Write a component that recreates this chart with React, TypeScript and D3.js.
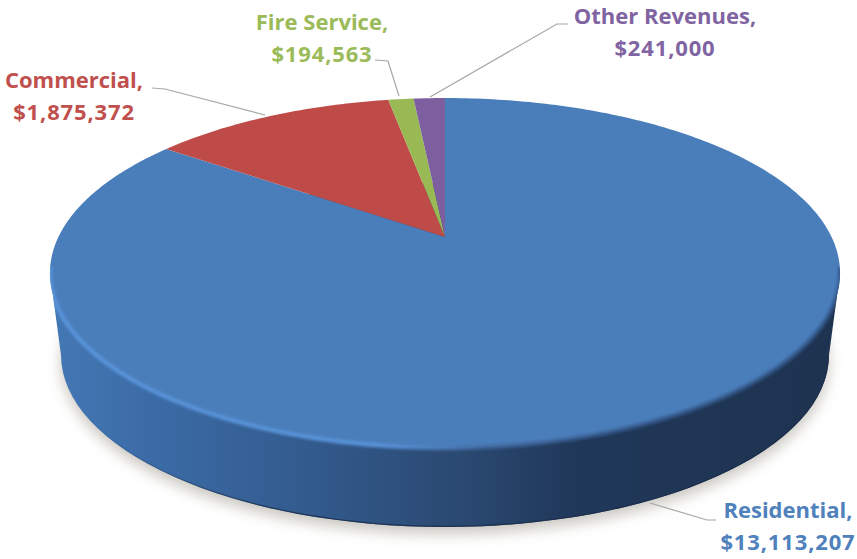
import React from "react";
import * as d3 from "d3";

const categories = ["Residential", "Commercial", "Fire Service", "Other Revenues"];
const revenues = [13113207, 1875372, 194563, 241000];
const valueLabels = ["$13,113,207", "$1,875,372", "$194,563", "$241,000"];
const sliceColors = ["#4a7ebb", "#be4b48", "#98b954", "#7d5fa0"];
const labelColors = ["#4f81bd", "#c0504d", "#9bbb59", "#8064a2"];

const WIDTH = 857;
const HEIGHT = 559;

// Tilted disc: a unit circle seen in perspective.
const CX = 445;
const DISC_R = 386.6;
const Y_APEX = 237;
const Y_SLOPE = 118.8;
const PERSPECTIVE = -0.2057;
const TOP_RX = DISC_R / Math.sqrt(1 - PERSPECTIVE * PERSPECTIVE);
const TOP_MID_Y = 273;

function project(angle: number): [number, number] {
  const u = Math.sin(angle);
  const v = -Math.cos(angle);
  const w = 1 + PERSPECTIVE * v;
  return [CX + (DISC_R * u) / w, (Y_SLOPE * v + Y_APEX) / w];
}

const pieLayout = d3.pie<number>().sort(null).startAngle(0).endAngle(2 * Math.PI);
const arcs = pieLayout(revenues);
const line = d3.line();

function slicePath(start: number, end: number): string {
  const n = Math.max(4, Math.ceil((end - start) * 60));
  const pts = d3.range(n + 1).map((i) => project(start + ((end - start) * i) / n));
  return line([[CX, Y_APEX], ...pts])! + "Z";
}

// Lower face of the disc, a little narrower than the top
const BASE_RX = 384;
const BASE_RY = 172;
const BASE_CY = 355;
const baseOutline = `M${CX - BASE_RX},${BASE_CY}A${BASE_RX},${BASE_RY} 0 1,0 ${CX + BASE_RX},${BASE_CY}A${BASE_RX},${BASE_RY} 0 1,0 ${CX - BASE_RX},${BASE_CY}Z`;
const baseFrontArc = `M${CX - BASE_RX},${BASE_CY}A${BASE_RX},${BASE_RY} 0 0,0 ${CX + BASE_RX},${BASE_CY}`;

// Band joining the widest points of the top face to the lower face
const wallBand = line([
  [CX - TOP_RX, TOP_MID_Y],
  [CX - BASE_RX, BASE_CY],
  [CX + BASE_RX, BASE_CY],
  [CX + TOP_RX, TOP_MID_Y],
])! + "Z";

// Front part of the rim, for the bevel highlight
const frontRim = line(
  d3.range(100, 261).map((d) => project((d / 180) * Math.PI))
)!;

const leaders: [number, number][][] = [
  [[650, 503], [707, 520], [716, 520]],
  [[265, 115], [165, 89], [152, 88]],
  [[399, 96], [388, 61], [375, 60]],
  [[430, 97], [557, 24], [568, 24]],
];

const labelAnchors: { x: number; y: number }[] = [
  { x: 788, y: 518 },
  { x: 74, y: 88 },
  { x: 322, y: 30 },
  { x: 665, y: 24 },
];

export default function App() {
  return (
    <svg
      width={WIDTH}
      height={HEIGHT}
      viewBox={`0 0 ${WIDTH} ${HEIGHT}`}
      style={{ position: "absolute", left: 0, top: 0, background: "#fff" }}
    >
      <defs>
        <linearGradient id="wall" gradientUnits="userSpaceOnUse" x1={50} x2={840} y1={0} y2={0}>
          <stop offset="0" stopColor="#4478b5" />
          <stop offset="0.13" stopColor="#3b6ba6" />
          <stop offset="0.32" stopColor="#335b8e" />
          <stop offset="0.53" stopColor="#2a4870" />
          <stop offset="0.66" stopColor="#20385a" />
          <stop offset="1" stopColor="#1e3350" />
        </linearGradient>
        <linearGradient id="bevelFade" gradientUnits="userSpaceOnUse" x1={50} x2={840} y1={0} y2={0}>
          <stop offset="0" stopColor="#5a95dc" />
          <stop offset="0.42" stopColor="#5a95dc" />
          <stop offset="0.55" stopColor="#41699f" />
          <stop offset="0.75" stopColor="#34588a" />
          <stop offset="1" stopColor="#34588a" />
        </linearGradient>
        <linearGradient id="edgeFade" gradientUnits="userSpaceOnUse" x1={50} x2={840} y1={0} y2={0}>
          <stop offset="0.05" stopColor="#1b2c48" stopOpacity={0} />
          <stop offset="0.3" stopColor="#1b2c48" stopOpacity={0.8} />
          <stop offset="1" stopColor="#1b2c48" stopOpacity={0.8} />
        </linearGradient>
        <filter id="castShadow" x="-10%" y="-10%" width="120%" height="125%">
          <feGaussianBlur stdDeviation="7" />
        </filter>
        <filter id="bevel" x="-5%" y="-5%" width="110%" height="120%">
          <feGaussianBlur stdDeviation="1.5" />
        </filter>
        <filter id="edge" x="-5%" y="-5%" width="110%" height="120%">
          <feGaussianBlur stdDeviation="0.7" />
        </filter>
        <clipPath id="discClip">
          <path d={baseOutline} />
          <path d={wallBand} />
          {arcs.map((a, i) => (
            <path key={categories[i]} d={slicePath(a.startAngle, a.endAngle)} />
          ))}
        </clipPath>
      </defs>

      <path d={baseOutline} transform="translate(0,7)" fill="#7d7565" opacity={0.4} filter="url(#castShadow)" />

      {/* side wall */}
      <path d={baseOutline} fill="url(#wall)" />
      <path d={wallBand} fill="url(#wall)" />

      {/* top face */}
      {arcs.map((a, i) => (
        <path key={categories[i]} d={slicePath(a.startAngle, a.endAngle)} fill={sliceColors[i]} />
      ))}

      <g clipPath="url(#discClip)">
        {/* dark line where the wall meets the ground */}
        <path d={baseFrontArc} fill="none" stroke="url(#edgeFade)" strokeWidth={2.5} filter="url(#edge)" />
        {/* bevel along the front edge */}
        <path d={frontRim} fill="none" stroke="url(#bevelFade)" strokeWidth={4} filter="url(#bevel)" />
      </g>

      {/* leader lines */}
      {leaders.map((pts, i) => (
        <path key={i} d={line(pts)!} fill="none" stroke="#a6a6a6" strokeWidth={1.2} />
      ))}

      {/* data labels */}
      {categories.map((c, i) => (
        <text
          key={c}
          x={labelAnchors[i].x}
          y={labelAnchors[i].y}
          textAnchor="middle"
          fontFamily="'Open Sans', sans-serif"
          fontWeight={700}
          fontSize={22}
          fill={labelColors[i]}
        >
          <tspan x={labelAnchors[i].x}>{c},</tspan>
          <tspan x={labelAnchors[i].x} dy={32} letterSpacing={0.85}>{valueLabels[i]}</tspan>
        </text>
      ))}
    </svg>
  );
}
